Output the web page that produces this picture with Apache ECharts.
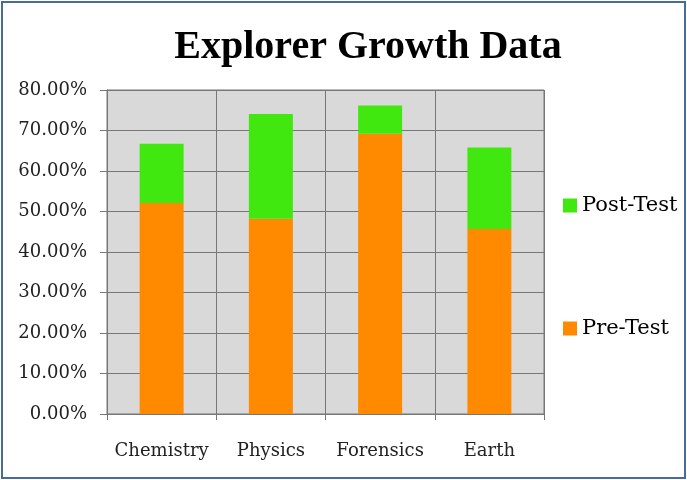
<!DOCTYPE html>
<html>
<head>
<meta charset="utf-8">
<script src="https://cdn.jsdelivr.net/npm/echarts@6/dist/echarts.min.js"></script>
<style>html,body{margin:0;padding:0;background:#fff}#c{width:687px;height:480px}</style>
</head>
<body>
<div id="c"></div>
<script>
var categories = ['Chemistry', 'Physics', 'Forensics', 'Earth'];
var preTest = [0.521, 0.482, 0.692, 0.457];
var postTest = [0.146, 0.259, 0.070, 0.201];
var yTicks = [0, 0.1, 0.2, 0.3, 0.4, 0.5, 0.6, 0.7, 0.8];

var chart = echarts.init(document.getElementById('c'), null, {renderer: 'canvas'});
var serif = 'DejaVu Serif';
var gridColor = '#777777';
chart.setOption({
  backgroundColor: '#ffffff',
  animation: false,
  title: {
    text: 'Explorer Growth Data',
    left: 363, top: 23, textAlign: 'center',
    textStyle: {fontFamily: 'Liberation Serif', fontWeight: 'bold', fontSize: 40, color: '#000'}
  },
  legend: [{
    data: ['Post-Test'], left: 558, top: 190, orient: 'vertical', icon: 'rect',
    itemWidth: 14, itemHeight: 14, itemGap: 6,
    textStyle: {fontFamily: serif, fontSize: 21, color: '#000'}
  }, {
    data: ['Pre-Test'], left: 558, top: 313, orient: 'vertical', icon: 'rect',
    itemWidth: 14, itemHeight: 14, itemGap: 6,
    textStyle: {fontFamily: serif, fontSize: 21, color: '#000'}
  }],
  graphic: [{
    type: 'rect', shape: {x: 2, y: 2, width: 683, height: 476},
    style: {fill: 'none', stroke: '#4a6a9c', lineWidth: 2}, silent: true, z: 100
  }],
  grid: {
    left: 107, right: 143, top: 90, bottom: 66,
    show: true, backgroundColor: '#d9d9d9', borderColor: gridColor, borderWidth: 1
  },
  xAxis: {
    type: 'category', data: categories,
    axisLine: {lineStyle: {color: gridColor, width: 1}},
    axisTick: {show: true, interval: 0, length: 6, lineStyle: {color: gridColor}},
    splitLine: {show: true, interval: 0, lineStyle: {color: gridColor, width: 1}},
    axisLabel: {interval: 0, fontFamily: serif, fontSize: 18, color: '#222', margin: 28}
  },
  yAxis: {
    type: 'value', min: 0, max: 0.8, interval: 0.1,
    axisLine: {show: true, lineStyle: {color: gridColor}},
    axisTick: {show: true, length: 7, lineStyle: {color: gridColor}},
    splitLine: {show: true, lineStyle: {color: gridColor, width: 1}},
    axisLabel: {
      fontFamily: serif, fontSize: 18, color: '#222', margin: 20,
      formatter: function (v) { return (v * 100).toFixed(2) + '%'; }
    }
  },
  series: [{
    name: 'Pre-Test', type: 'bar', stack: 'total', data: preTest,
    barWidth: 44, itemStyle: {color: '#ff8a00'}
  }, {
    name: 'Post-Test', type: 'bar', stack: 'total', data: postTest,
    barWidth: 44, itemStyle: {color: '#40e810'}
  }]
});
</script>
</body>
</html>
